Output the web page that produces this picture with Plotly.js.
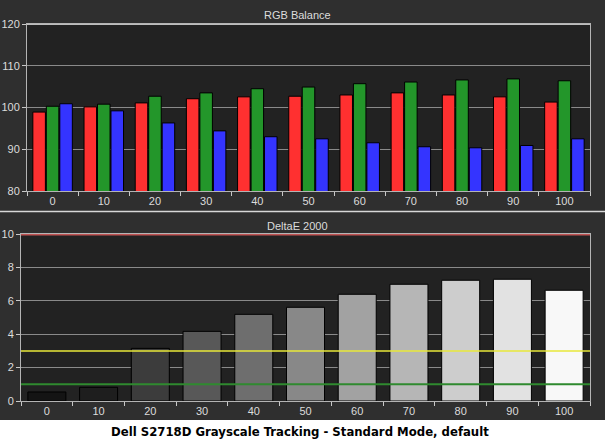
<!DOCTYPE html>
<html>
<head>
<meta charset="utf-8">
<script src="https://cdn.plot.ly/plotly-3.0.1.min.js"></script>
<style>
  html, body { margin: 0; padding: 0; background: #ffffff; }
  #chart { width: 605px; height: 441px; }
</style>
</head>
<body>
<div id="chart"></div>
<script>
// ---- Data ----
const categories = ['0', '10', '20', '30', '40', '50', '60', '70', '80', '90', '100'];
const redValues   = [98.9, 100.15, 101.1, 102.1, 102.55, 102.7, 103.0, 103.5, 103.0, 102.55, 101.3];
const greenValues = [100.3, 100.8, 102.7, 103.5, 104.5, 104.9, 105.7, 106.1, 106.6, 106.85, 106.4];
const blueValues  = [100.9, 99.2, 96.3, 94.4, 93.0, 92.5, 91.55, 90.6, 90.35, 90.9, 92.5];
const deltaE2000  = [0.54, 0.82, 3.15, 4.17, 5.19, 5.61, 6.39, 6.99, 7.23, 7.29, 6.63];
const deltaERefHigh = 10;
const deltaERefMid  = 3;
const deltaERefLow  = 1;

const chartTitle = 'Dell S2718D Grayscale Tracking - Standard Mode, default';
const topTitle = 'RGB Balance';
const bottomTitle = 'DeltaE 2000';

// ---- Styles ----
const grayColors = ['#141414', '#1e1e1e', '#3c3c3c', '#585858', '#6e6e6e', '#888888',
                    '#a2a2a2', '#b6b6b6', '#cdcdcd', '#e2e2e2', '#f8f8f8'];
const tickFont = { family: 'Liberation Sans, Arial, sans-serif', size: 11, color: '#dcdcdc' };
const outline = { color: '#000000', width: 1 };

const traces = [
  { type: 'bar', name: 'Red', x: categories, y: redValues, xaxis: 'x', yaxis: 'y',
    marker: { color: '#ff3030', line: outline }, hoverinfo: 'skip' },
  { type: 'bar', name: 'Green', x: categories, y: greenValues, xaxis: 'x', yaxis: 'y',
    marker: { color: '#23962a', line: outline }, hoverinfo: 'skip' },
  { type: 'bar', name: 'Blue', x: categories, y: blueValues, xaxis: 'x', yaxis: 'y',
    marker: { color: '#3434ff', line: outline }, hoverinfo: 'skip' },
  { type: 'bar', name: 'DeltaE', x: categories, y: deltaE2000, xaxis: 'x2', yaxis: 'y2',
    marker: { color: grayColors, line: outline }, hoverinfo: 'skip' }
];

const W = 605, H = 441;
const px = v => v / W;
const py = v => 1 - v / H;

const xCommon = {
  type: 'category', tickfont: tickFont, showgrid: false,
  showline: true, linecolor: '#b4b4b4', linewidth: 1, mirror: true,
  ticks: 'outside', ticklen: 4, tickcolor: '#c8c8c8', tickson: 'boundaries',
  fixedrange: true, zeroline: false
};
const yCommon = {
  tickfont: tickFont, showgrid: true, gridcolor: '#8a8a8a', gridwidth: 1,
  showline: true, linecolor: '#b4b4b4', linewidth: 1, mirror: true,
  ticks: 'outside', ticklen: 4, tickcolor: '#c8c8c8',
  fixedrange: true, zeroline: false
};

const layout = {
  width: W, height: H,
  margin: { l: 0, r: 0, t: 0, b: 0, pad: 0 },
  paper_bgcolor: '#2f2f2f',
  plot_bgcolor: '#222222',
  showlegend: false,
  barmode: 'group',
  bargap: 0.21,
  bargroupgap: 0.07,
  xaxis: Object.assign({}, xCommon, { domain: [px(27), px(590)], anchor: 'y' }),
  yaxis: Object.assign({}, yCommon, { domain: [py(191), py(24)], anchor: 'x', range: [80, 120], dtick: 10 }),
  xaxis2: Object.assign({}, xCommon, { domain: [px(21), px(590)], anchor: 'y2' }),
  yaxis2: Object.assign({}, yCommon, { domain: [py(401), py(234)], anchor: 'x2', range: [0, 10], dtick: 2 }),
  shapes: [
    // top border of the RGB panel (lighter line at 120)
    { type: 'line', xref: 'x domain', yref: 'y', x0: 0, x1: 1, y0: 120, y1: 120,
      line: { color: '#bdbdbd', width: 2 }, layer: 'above' },
    // reference lines on DeltaE panel
    { type: 'line', xref: 'x2 domain', yref: 'y2', x0: 0, x1: 1, y0: deltaERefHigh, y1: deltaERefHigh,
      line: { color: '#c05252', width: 3 }, layer: 'above' },
    { type: 'line', xref: 'x2 domain', yref: 'y2', x0: 0, x1: 1, y0: deltaERefMid, y1: deltaERefMid,
      line: { color: '#e8e83a', width: 1.5 }, layer: 'above' },
    { type: 'line', xref: 'x2 domain', yref: 'y2', x0: 0, x1: 1, y0: deltaERefLow, y1: deltaERefLow,
      line: { color: '#2f8a2f', width: 2 }, layer: 'above' },
    // separator between panels
    { type: 'line', xref: 'paper', yref: 'paper', x0: 0, x1: 1, y0: py(211.5), y1: py(211.5),
      line: { color: '#d8d8d8', width: 1.5 }, layer: 'above' },
    // white strip for main title
    { type: 'rect', xref: 'paper', yref: 'paper', x0: 0, x1: 1, y0: 0, y1: py(420),
      fillcolor: '#ffffff', line: { width: 0 }, layer: 'above' }
  ],
  annotations: [
    { text: topTitle, xref: 'paper', yref: 'paper', x: px(297), y: py(15),
      xanchor: 'center', yanchor: 'middle', showarrow: false,
      font: { family: 'Liberation Sans, Arial, sans-serif', size: 11, color: '#dcdcdc' } },
    { text: bottomTitle, xref: 'paper', yref: 'paper', x: px(297), y: py(226),
      xanchor: 'center', yanchor: 'middle', showarrow: false,
      font: { family: 'Liberation Sans, Arial, sans-serif', size: 11, color: '#dcdcdc' } },
    { text: '<b>' + chartTitle + '</b>', xref: 'paper', yref: 'paper', x: px(300), y: py(431),
      xanchor: 'center', yanchor: 'middle', showarrow: false,
      font: { family: 'DejaVu Sans Condensed, Liberation Sans, Arial, sans-serif', size: 13, color: '#000000' } }
  ]
};

Plotly.newPlot('chart', traces, layout, { staticPlot: true, displayModeBar: false });
</script>
</body>
</html>
